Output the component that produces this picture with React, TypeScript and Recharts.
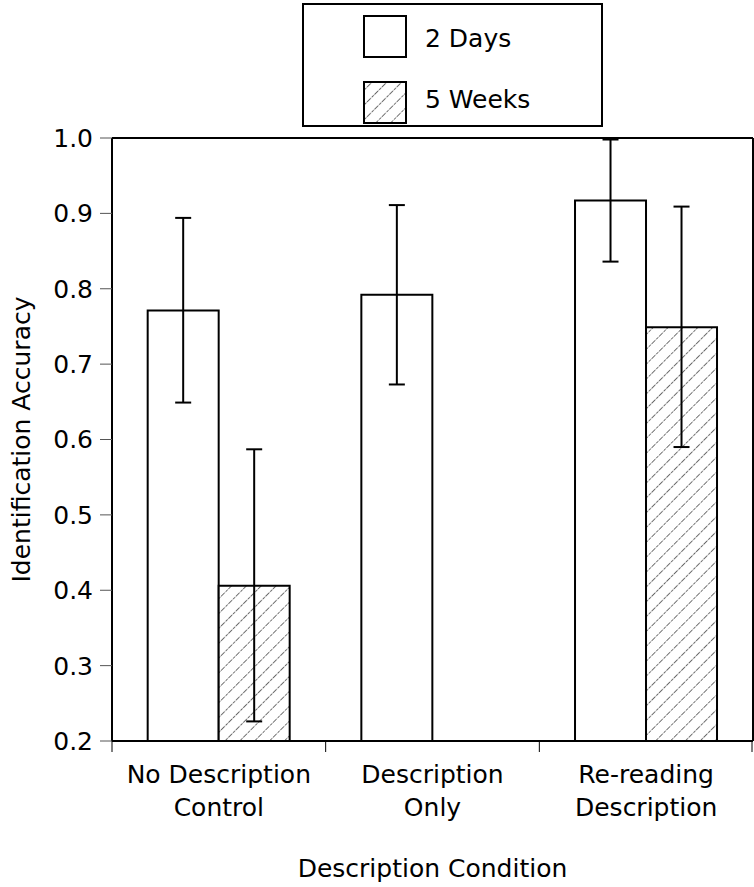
import React from "react";
import { BarChart, Bar, XAxis, YAxis, ErrorBar, Legend, Label } from "recharts";

const categories = ["No Description\nControl", "Description\nOnly", "Re-reading\nDescription"];
const seriesNames = ["2 Days", "5 Weeks"];
const twoDays = [0.771, 0.792, 0.917];
const twoDaysLow = [0.649, 0.673, 0.836];
const twoDaysHigh = [0.894, 0.911, 0.998];
const fiveWeeks: (number | null)[] = [0.406, null, 0.749];
const fiveWeeksLow: (number | null)[] = [0.226, null, 0.59];
const fiveWeeksHigh: (number | null)[] = [0.587, null, 0.909];
const yTicks = [0.2, 0.3, 0.4, 0.5, 0.6, 0.7, 0.8, 0.9, 1.0];

const FONT = "'DejaVu Sans', 'Liberation Sans', Arial, sans-serif";
const FS = 25;

const data = categories.map((cat, i) => ({
  cat,
  twoDays: twoDays[i],
  err2: [twoDays[i] - twoDaysLow[i], twoDaysHigh[i] - twoDays[i]],
  fiveWeeks: fiveWeeks[i],
  err5:
    fiveWeeks[i] == null
      ? null
      : [(fiveWeeks[i] as number) - (fiveWeeksLow[i] as number), (fiveWeeksHigh[i] as number) - (fiveWeeks[i] as number)],
}));

function BottomTick(props: any) {
  const { x, y, payload, index, visibleTicksCount, width } = props;
  const half =
    payload && typeof payload.offset === "number" && payload.offset > 0
      ? payload.offset
      : width / (2 * (visibleTicksCount || categories.length));
  const lines = String(payload.value).split("\n");
  const isLast = index === (visibleTicksCount || categories.length) - 1;
  return (
    <g>
      <line x1={x - half} x2={x - half} y1={y} y2={y + 11} stroke="#000" strokeWidth={1} />
      {isLast && <line x1={x + half - 1} x2={x + half - 1} y1={y} y2={y + 11} stroke="#000" strokeWidth={1} />}
      <text x={x} textAnchor="middle" fontFamily={FONT} fontSize={FS} fill="#000">
        {lines.map((l, i) => (
          <tspan key={i} x={x} y={y + 42 + i * 33}>
            {l}
          </tspan>
        ))}
      </text>
    </g>
  );
}

function HatchDef({ id }: { id: string }) {
  return (
    <pattern id={id} patternUnits="userSpaceOnUse" width={10.5} height={10.5} patternTransform="rotate(45)">
      <rect width={10.5} height={10.5} fill="#fff" />
      <line x1={0} y1={0} x2={0} y2={10.5} stroke="#333" strokeWidth={1.4} strokeDasharray="3 1" />
    </pattern>
  );
}

function LegendContent(props: any) {
  const payload = props.payload || [];
  return (
    <svg width={301} height={124} style={{ display: "block" }}>
      <defs>
        <HatchDef id="hatchLegend" />
      </defs>
      <rect x={1} y={1} width={299} height={122} fill="#fff" stroke="#000" strokeWidth={2} />
      {seriesNames.map((name, i) => (
        <g key={name}>
          <rect
            x={62}
            y={13 + i * 66}
            width={42}
            height={41}
            fill={i === 0 ? "#fff" : "url(#hatchLegend)"}
            stroke="#000"
            strokeWidth={2}
          />
          <text x={123} y={44 + i * 61} fontFamily={FONT} fontSize={FS} fill="#000">
            {payload[i] ? payload[i].value : name}
          </text>
        </g>
      ))}
    </svg>
  );
}

export default function App() {
  return (
    <div style={{ position: "absolute", left: 0, top: 0, width: 754, height: 887, background: "#fff" }}>
      <BarChart
        width={754}
        height={887}
        data={data}
        margin={{ top: 137, right: 0, bottom: 0, left: 0 }}
        barCategoryGap="16.7%"
        barGap={0}
      >
        <defs>
          <HatchDef id="hatchBar" />
        </defs>
        <XAxis
          dataKey="cat"
          height={146}
          tickSize={0}
          tickMargin={0}
          tickLine={false}
          interval={0}
          tick={<BottomTick />}
          axisLine={{ stroke: "#000", strokeWidth: 2 }}
        >
          <Label
            content={(p: any) => {
              const vb = p.viewBox || {};
              return (
                <text
                  x={vb.x + vb.width / 2}
                  y={vb.y + 136}
                  textAnchor="middle"
                  fontFamily={FONT}
                  fontSize={FS}
                  fill="#000"
                >
                  Description Condition
                </text>
              );
            }}
          />
        </XAxis>
        <XAxis
          xAxisId="top"
          dataKey="cat"
          orientation="top"
          height={1}
          tick={false}
          tickLine={false}
          axisLine={{ stroke: "#000", strokeWidth: 2 }}
        />
        <YAxis
          width={112}
          domain={[0.2, 1.0]}
          ticks={yTicks}
          allowDataOverflow
          interval={0}
          tickFormatter={(v: number) => v.toFixed(1)}
          tickSize={12}
          tickMargin={7}
          tickLine={{ stroke: "#555", strokeWidth: 1 }}
          axisLine={{ stroke: "#000", strokeWidth: 2 }}
          tick={{ fontSize: FS, fill: "#000", fontFamily: FONT }}
        >
          <Label
            content={(p: any) => {
              const vb = p.viewBox || {};
              const cx = 30;
              const cy = vb.y + vb.height / 2;
              return (
                <text
                  x={cx}
                  y={cy}
                  transform={`rotate(-90, ${cx}, ${cy})`}
                  textAnchor="middle"
                  fontFamily={FONT}
                  fontSize={FS}
                  fill="#000"
                >
                  Identification Accuracy
                </text>
              );
            }}
          />
        </YAxis>
        <YAxis
          yAxisId="right"
          orientation="right"
          width={1}
          domain={[0.2, 1.0]}
          allowDataOverflow
          tick={false}
          tickLine={false}
          axisLine={{ stroke: "#000", strokeWidth: 2 }}
        />
        <Legend
          layout="vertical"
          align="center"
          verticalAlign="middle"
          wrapperStyle={{ position: "absolute", left: 302, top: 3, width: 301, height: 124 }}
          content={<LegendContent />}
        />
        <Bar dataKey="twoDays" name={seriesNames[0]} fill="#fff" stroke="#000" strokeWidth={2} isAnimationActive={false}>
          <ErrorBar dataKey="err2" width={8} stroke="#000" strokeWidth={2} direction="y" />
        </Bar>
        <Bar
          dataKey="fiveWeeks"
          name={seriesNames[1]}
          fill="url(#hatchBar)"
          stroke="#000"
          strokeWidth={2}
          isAnimationActive={false}
        >
          <ErrorBar dataKey="err5" width={8} stroke="#000" strokeWidth={2} direction="y" />
        </Bar>
      </BarChart>
    </div>
  );
}
